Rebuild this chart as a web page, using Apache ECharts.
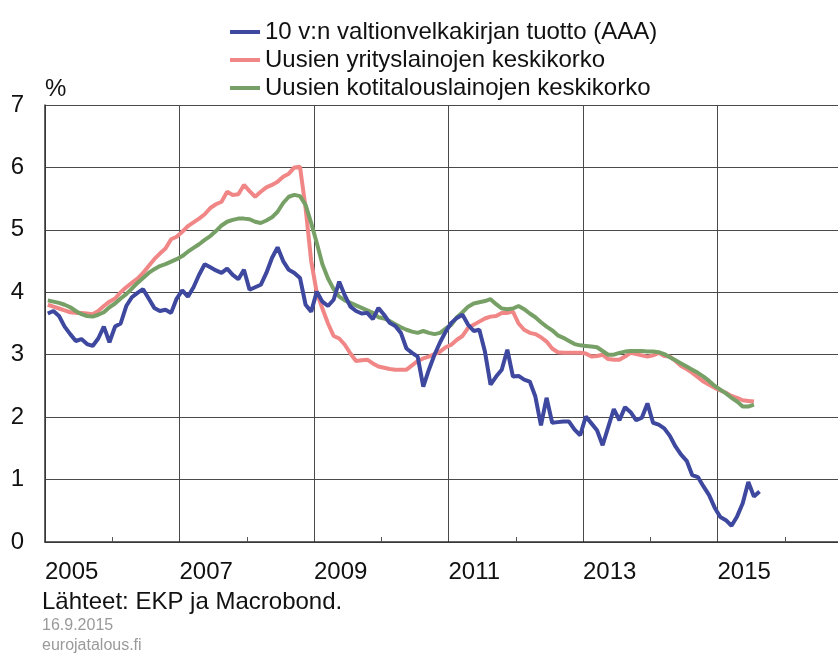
<!DOCTYPE html>
<html>
<head>
<meta charset="utf-8">
<script src="https://cdn.jsdelivr.net/npm/echarts@6/dist/echarts.min.js"></script>
<style>
  html, body { margin: 0; padding: 0; background: #fff; }
  #chart { width: 838px; height: 653px; }
</style>
</head>
<body>
<div id="chart"></div>
<script>
// kuukausidata tammikuusta 2005 alkaen (%)
var startYear = 2005;
var seriesNames = [
  "10 v:n valtionvelkakirjan tuotto (AAA)",
  "Uusien yrityslainojen keskikorko",
  "Uusien kotitalouslainojen keskikorko"
];
var yearTicks = [2005, 2007, 2009, 2011, 2013, 2015];

var govYield = [
  3.66, 3.70, 3.62, 3.45, 3.33, 3.22, 3.25, 3.17, 3.14, 3.26, 3.45, 3.20, // 2005
  3.45, 3.50, 3.78, 3.92, 3.99, 4.05, 3.90, 3.75, 3.70, 3.72, 3.67, 3.90, // 2006
  4.03, 3.93, 4.08, 4.28, 4.45, 4.40, 4.35, 4.31, 4.38, 4.28, 4.21, 4.36, // 2007
  4.04, 4.08, 4.12, 4.31, 4.55, 4.72, 4.50, 4.36, 4.31, 4.23, 3.80, 3.69, // 2008
  4.01, 3.85, 3.78, 3.88, 4.17, 3.95, 3.77, 3.70, 3.66, 3.67, 3.57, 3.75, // 2009
  3.64, 3.51, 3.46, 3.35, 3.10, 3.03, 2.97, 2.49, 2.76, 3.00, 3.20, 3.37, // 2010
  3.51, 3.59, 3.64, 3.48, 3.38, 3.40, 3.05, 2.52, 2.65, 2.76, 3.08, 2.65, // 2011
  2.66, 2.60, 2.57, 2.33, 1.87, 2.31, 1.91, 1.92, 1.93, 1.93, 1.80, 1.71, // 2012
  2.01, 1.90, 1.79, 1.55, 1.84, 2.13, 1.95, 2.16, 2.08, 1.95, 1.99, 2.22, // 2013
  1.91, 1.88, 1.82, 1.70, 1.53, 1.40, 1.30, 1.07, 1.04, 0.89, 0.75, 0.55, // 2014
  0.40, 0.35, 0.26, 0.41, 0.62, 0.96, 0.73, 0.81                          // 2015
];

var corpRate = [
  3.80, 3.77, 3.74, 3.71, 3.68, 3.67, 3.67, 3.66, 3.65, 3.70, 3.78, 3.85,
  3.90, 4.00, 4.08, 4.15, 4.22, 4.31, 4.42, 4.53, 4.62, 4.70, 4.85, 4.89,
  4.97, 5.06, 5.12, 5.18, 5.25, 5.35, 5.41, 5.45, 5.61, 5.56, 5.57, 5.72,
  5.62, 5.53, 5.61, 5.68, 5.72, 5.77, 5.85, 5.90, 6.00, 6.01, 5.35, 4.50,
  3.99, 3.74, 3.50, 3.30, 3.26, 3.16, 3.02, 2.90, 2.91, 2.92, 2.86, 2.81,
  2.79, 2.77, 2.76, 2.76, 2.76, 2.83, 2.90, 2.94, 2.97, 3.01, 3.05, 3.12,
  3.16, 3.24, 3.30, 3.43, 3.48, 3.53, 3.58, 3.61, 3.62, 3.67, 3.67, 3.69,
  3.50, 3.40, 3.35, 3.33, 3.28, 3.21, 3.10, 3.04, 3.03, 3.03, 3.03, 3.03,
  3.02, 2.97, 2.98, 3.00, 2.93, 2.92, 2.92, 2.97, 3.03, 3.01, 2.99, 2.97,
  2.99, 3.03, 2.98, 2.97, 2.90, 2.82, 2.77, 2.71, 2.64, 2.57, 2.52, 2.47,
  2.43, 2.39, 2.34, 2.31, 2.27, 2.26, 2.25
];

var houseRate = [
  3.87, 3.85, 3.83, 3.80, 3.76, 3.70, 3.65, 3.62, 3.61, 3.64, 3.68, 3.76,
  3.82, 3.90, 3.97, 4.06, 4.15, 4.23, 4.31, 4.37, 4.42, 4.45, 4.49, 4.53,
  4.58, 4.65, 4.71, 4.77, 4.84, 4.90, 4.98, 5.07, 5.13, 5.16, 5.18, 5.18,
  5.17, 5.13, 5.11, 5.15, 5.20, 5.29, 5.43, 5.53, 5.56, 5.54, 5.40, 5.11,
  4.79, 4.45, 4.22, 4.05, 3.93, 3.87, 3.83, 3.79, 3.75, 3.71, 3.67, 3.60,
  3.58, 3.54, 3.49, 3.44, 3.40, 3.37, 3.35, 3.38, 3.35, 3.33, 3.35, 3.42,
  3.48, 3.60, 3.68, 3.77, 3.82, 3.84, 3.86, 3.89, 3.81, 3.74, 3.73, 3.74,
  3.78, 3.73, 3.66, 3.60, 3.52, 3.45, 3.39, 3.31, 3.27, 3.22, 3.17, 3.15,
  3.14, 3.13, 3.12, 3.06, 3.00, 3.00, 3.03, 3.05, 3.06, 3.06, 3.06, 3.05,
  3.05, 3.04, 3.01, 2.96, 2.91, 2.86, 2.81, 2.76, 2.71, 2.65, 2.58, 2.50,
  2.44, 2.38, 2.31, 2.25, 2.17, 2.17, 2.20
];

// kuukauden keskikohta vuosilukuna
function toPoints(values) {
  return values.map(function (v, i) {
    return [startYear + (i + 0.5) / 12, v];
  });
}

var font = "'Liberation Sans', Arial, sans-serif";
var gridColor = "#4a4a4a";

var myChart = echarts.init(document.getElementById("chart"));

var option = {
  animation: false,
  backgroundColor: "#fff",
  textStyle: { fontFamily: font },
  legend: {
    orient: "vertical",
    left: 230,
    top: 20,
    padding: 0,
    itemGap: 4,
    itemWidth: 30,
    itemHeight: 4,
    icon: "rect",
    data: seriesNames,
    textStyle: { fontSize: 24, color: "#111", lineHeight: 24, fontFamily: font }
  },
  // kuva on rajattu oikealta: akseli jatkuu vuoteen 2017 asti kuvan ulkopuolelle
  grid: {
    left: 45,
    width: 807,
    top: 105,
    bottom: 111,
    containLabel: false,
    outerBoundsMode: "none"
  },
  xAxis: {
    type: "value",
    min: 2005,
    max: 2017,
    interval: 2,
    axisLine: { show: true, lineStyle: { color: "#333", width: 1.5 } },
    axisTick: { show: false, inside: true },
    minorTick: { show: true, splitNumber: 2, length: 5, lineStyle: { color: "#555" } },
    splitLine: { show: true, lineStyle: { color: gridColor, width: 1 } },
    axisLabel: {
      fontSize: 24,
      color: "#111",
      align: "left",
      margin: 18,
      showMaxLabel: false,
      formatter: function (v) {
        return yearTicks.indexOf(v) >= 0 ? String(v) : "";
      }
    }
  },
  yAxis: {
    type: "value",
    min: 0,
    max: 7,
    interval: 1,
    name: "%",
    nameLocation: "end",
    nameGap: 4,
    nameTextStyle: { fontSize: 24, color: "#111", align: "left", verticalAlign: "bottom" },
    axisLine: { show: true, lineStyle: { color: "#333", width: 1.5 } },
    axisTick: { show: false },
    splitLine: { show: true, lineStyle: { color: gridColor, width: 1 } },
    axisLabel: { fontSize: 24, color: "#111", margin: 21 }
  },
  series: [
    {
      name: seriesNames[1],
      type: "line",
      data: toPoints(corpRate),
      showSymbol: false,
      lineStyle: { width: 4, color: "#f08686" },
      itemStyle: { color: "#f08686" }
    },
    {
      name: seriesNames[2],
      type: "line",
      data: toPoints(houseRate),
      showSymbol: false,
      lineStyle: { width: 4, color: "#77a066" },
      itemStyle: { color: "#77a066" }
    },
    {
      name: seriesNames[0],
      type: "line",
      data: toPoints(govYield),
      showSymbol: false,
      lineStyle: { width: 4, color: "#3d489e" },
      itemStyle: { color: "#3d489e" }
    }
  ],
  graphic: [
    {
      type: "text",
      left: 42,
      top: 590,
      style: { text: "Lähteet: EKP ja Macrobond.", font: "24px " + font, fill: "#111" }
    },
    {
      type: "text",
      left: 42,
      top: 618,
      style: { text: "16.9.2015", font: "16px " + font, fill: "#9a9a9a" }
    },
    {
      type: "text",
      left: 42,
      top: 638,
      style: { text: "eurojatalous.fi", font: "16px " + font, fill: "#9a9a9a" }
    }
  ]
};

myChart.setOption(option);
window.addEventListener("resize", function () {
  myChart.resize();
});
</script>
</body>
</html>
